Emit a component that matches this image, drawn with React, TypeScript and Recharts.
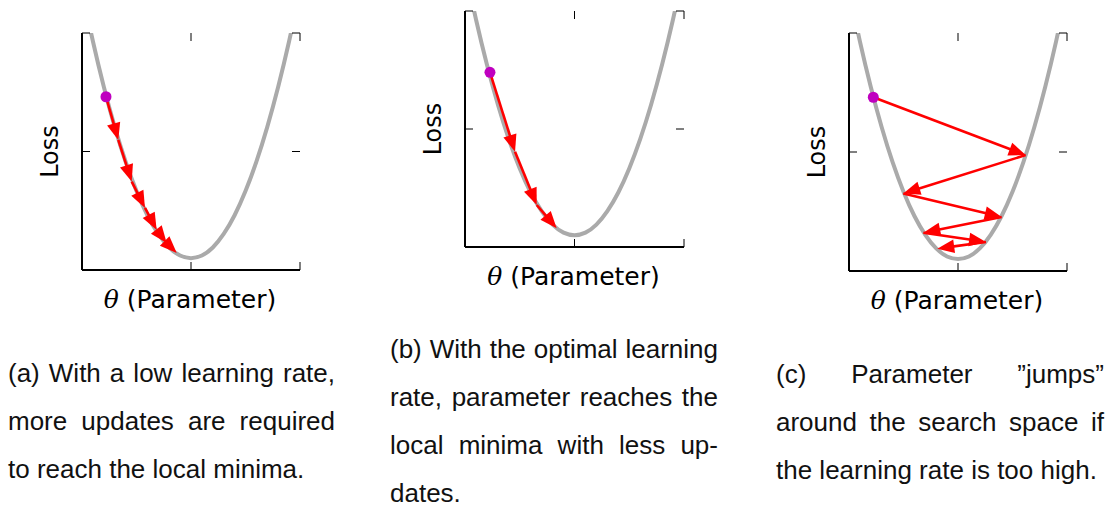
import React from 'react';
import { LineChart, Line, XAxis, YAxis, ReferenceLine, ReferenceDot } from 'recharts';

// Loss curve (parameter θ vs loss)
const thetaGrid = [-0.95, -0.9, -0.8, -0.7, -0.6, -0.5, -0.4, -0.3, -0.2, -0.1, 0, 0.1, 0.2, 0.3, 0.4, 0.5, 0.6, 0.7, 0.8, 0.9, 0.95];
const lossGrid = [1.07, 0.965, 0.773, 0.604, 0.457, 0.333, 0.231, 0.152, 0.095, 0.061, 0.05, 0.061, 0.095, 0.152, 0.231, 0.333, 0.457, 0.604, 0.773, 0.965, 1.07];

// Axis ticks
const thetaTicks = [-1, 0, 1];
const lossTicks = [0, 0.5, 1];

// Update steps for each panel
const lowRateTheta = [-0.78, -0.667, -0.544, -0.422, -0.315, -0.223, -0.131];
const lowRateLoss = [0.731, 0.549, 0.373, 0.262, 0.169, 0.114, 0.072];
const optimalRateTheta = [-0.772, -0.543, -0.345, -0.163];
const optimalRateLoss = [0.74, 0.404, 0.178, 0.079];
const highRateTheta = [-0.777, 0.621, -0.502, 0.401, -0.318, 0.257, -0.19];
const highRateLoss = [0.73, 0.487, 0.326, 0.227, 0.161, 0.122, 0.094];

// Captions
const captionA = ['(a) With a low learning rate,', 'more updates are required', 'to reach the local minima.'];
const captionB = ['(b) With the optimal learning', 'rate, parameter reaches the', 'local minima with less up-', 'dates.'];
const captionC = ['(c) Parameter \u201Djumps\u201D', 'around the search space if', 'the learning rate is too high.'];

const curveData = thetaGrid.map((t, i) => ({ theta: t, loss: lossGrid[i] }));

const AXIS_FONT = '"DejaVu Sans", sans-serif';
const CAPTION_FONT = '"Liberation Sans", Arial, sans-serif';

const arrowShape = (p: any) => {
  const x1 = Number(p.x1), y1 = Number(p.y1), x2 = Number(p.x2), y2 = Number(p.y2);
  const dx = x2 - x1, dy = y2 - y1;
  const len = Math.hypot(dx, dy) || 1;
  const ux = dx / len, uy = dy / len;
  const hl = 17, hw = 6.8;
  const bx = x2 - ux * hl, by = y2 - uy * hl;
  const px = -uy, py = ux;
  return (
    <g>
      {len > hl && (
        <line x1={x1} y1={y1} x2={bx + ux * 2} y2={by + uy * 2} stroke="#ff0000" strokeWidth={2.6} />
      )}
      <polygon
        points={`${x2},${y2} ${bx + px * hw},${by + py * hw} ${bx - px * hw},${by - py * hw}`}
        fill="#ff0000"
        stroke="none"
      />
    </g>
  );
};

const yLabel = (props: any) => {
  const vb = props.viewBox || {};
  const x = vb.x + vb.width - 24;
  const y = vb.y + vb.height / 2;
  return (
    <text x={x} y={y} transform={`rotate(-90, ${x}, ${y})`} textAnchor="middle" fontFamily={AXIS_FONT} fontSize={24} fill="#000">
      Loss
    </text>
  );
};

const xLabel = (props: any) => {
  const vb = props.viewBox || {};
  const x = vb.x + vb.width / 2 - 1;
  const y = vb.y + 38;
  return (
    <text x={x} y={y} textAnchor="middle" fontFamily={AXIS_FONT} fontSize={25} fill="#000">
      <tspan fontStyle="italic" fontFamily='"DejaVu Serif", serif'>θ</tspan>
      <tspan> (Parameter)</tspan>
    </text>
  );
};

type PanelProps = {
  left: number; top: number; w: number; h: number;
  stepTheta: number[]; stepLoss: number[];
};

const ML = 70, MT = 20, MR = 50, MB = 60;
const blank = () => '';

function Panel({ left, top, w, h, stepTheta, stepLoss }: PanelProps) {
  return (
    <div style={{ position: 'absolute', left: left - ML, top: top - MT }}>
      <LineChart width={w + ML + MR} height={h + MT + MB} data={curveData} margin={{ left: ML - 1, top: MT - 1, right: MR - 1, bottom: MB - 1 }}>
        <XAxis xAxisId="b" dataKey="theta" type="number" domain={[-1, 1]} ticks={thetaTicks} height={1}
          axisLine={{ stroke: '#000', strokeWidth: 2 }} tickLine={{ stroke: '#000', strokeWidth: 1 }} tickSize={-8}
          tickFormatter={blank} label={xLabel} allowDataOverflow />
        <XAxis xAxisId="t" orientation="top" dataKey="theta" type="number" domain={[-1, 1]} ticks={thetaTicks} height={1}
          axisLine={false} tickLine={{ stroke: '#000', strokeWidth: 1 }} tickSize={-8} tickFormatter={blank} allowDataOverflow />
        <YAxis yAxisId="l" type="number" domain={[0, 1]} ticks={lossTicks} width={1}
          axisLine={{ stroke: '#000', strokeWidth: 2 }} tickLine={{ stroke: '#000', strokeWidth: 1 }} tickSize={-8}
          tickFormatter={blank} label={yLabel} allowDataOverflow />
        <YAxis yAxisId="r" orientation="right" type="number" domain={[0, 1]} ticks={lossTicks} width={1}
          axisLine={false} tickLine={{ stroke: '#000', strokeWidth: 1 }} tickSize={-8} tickFormatter={blank} allowDataOverflow />
        <Line xAxisId="t" yAxisId="r" dataKey="loss" stroke="none" dot={false} activeDot={false} isAnimationActive={false} />
        <Line xAxisId="b" yAxisId="l" type="monotone" dataKey="loss" stroke="#aaaaaa" strokeWidth={4} dot={false} activeDot={false} isAnimationActive={false} />
        {stepTheta.slice(1).map((t, i) => (
          <ReferenceLine key={i} xAxisId="b" yAxisId="l" ifOverflow="visible"
            segment={[{ x: stepTheta[i], y: stepLoss[i] }, { x: t, y: stepLoss[i + 1] }]}
            shape={arrowShape} />
        ))}
        <ReferenceDot xAxisId="b" yAxisId="l" x={stepTheta[0]} y={stepLoss[0]} r={5.5} fill="#bf00bf" stroke="none" ifOverflow="visible" />
      </LineChart>
    </div>
  );
}

function Caption({ lines, left, top, width }: { lines: string[]; left: number; top: number; width: number }) {
  return (
    <div style={{ position: 'absolute', left, top, width, fontFamily: CAPTION_FONT, fontSize: 26, color: '#111' }}>
      {lines.map((ln, i) => {
        const last = i === lines.length - 1;
        return (
          <div key={i} style={{ height: 48, lineHeight: '48px', whiteSpace: 'nowrap', textAlign: last ? 'left' : 'justify', textAlignLast: last ? 'left' : 'justify' } as any}>
            {ln}
          </div>
        );
      })}
    </div>
  );
}

export default function App() {
  return (
    <div style={{ position: 'absolute', left: 0, top: 0, width: 1116, height: 508, background: '#fff', overflow: 'hidden' }}>
      <Panel left={82} top={33} w={218} h={237} stepTheta={lowRateTheta} stepLoss={lowRateLoss} />
      <Panel left={465} top={11} w={219} h={236} stepTheta={optimalRateTheta} stepLoss={optimalRateLoss} />
      <Panel left={849} top={33} w={218} h={238} stepTheta={highRateTheta} stepLoss={highRateLoss} />
      <Caption lines={captionA} left={8} top={349} width={327} />
      <Caption lines={captionB} left={390} top={325} width={328} />
      <Caption lines={captionC} left={776} top={350} width={328} />
    </div>
  );
}
